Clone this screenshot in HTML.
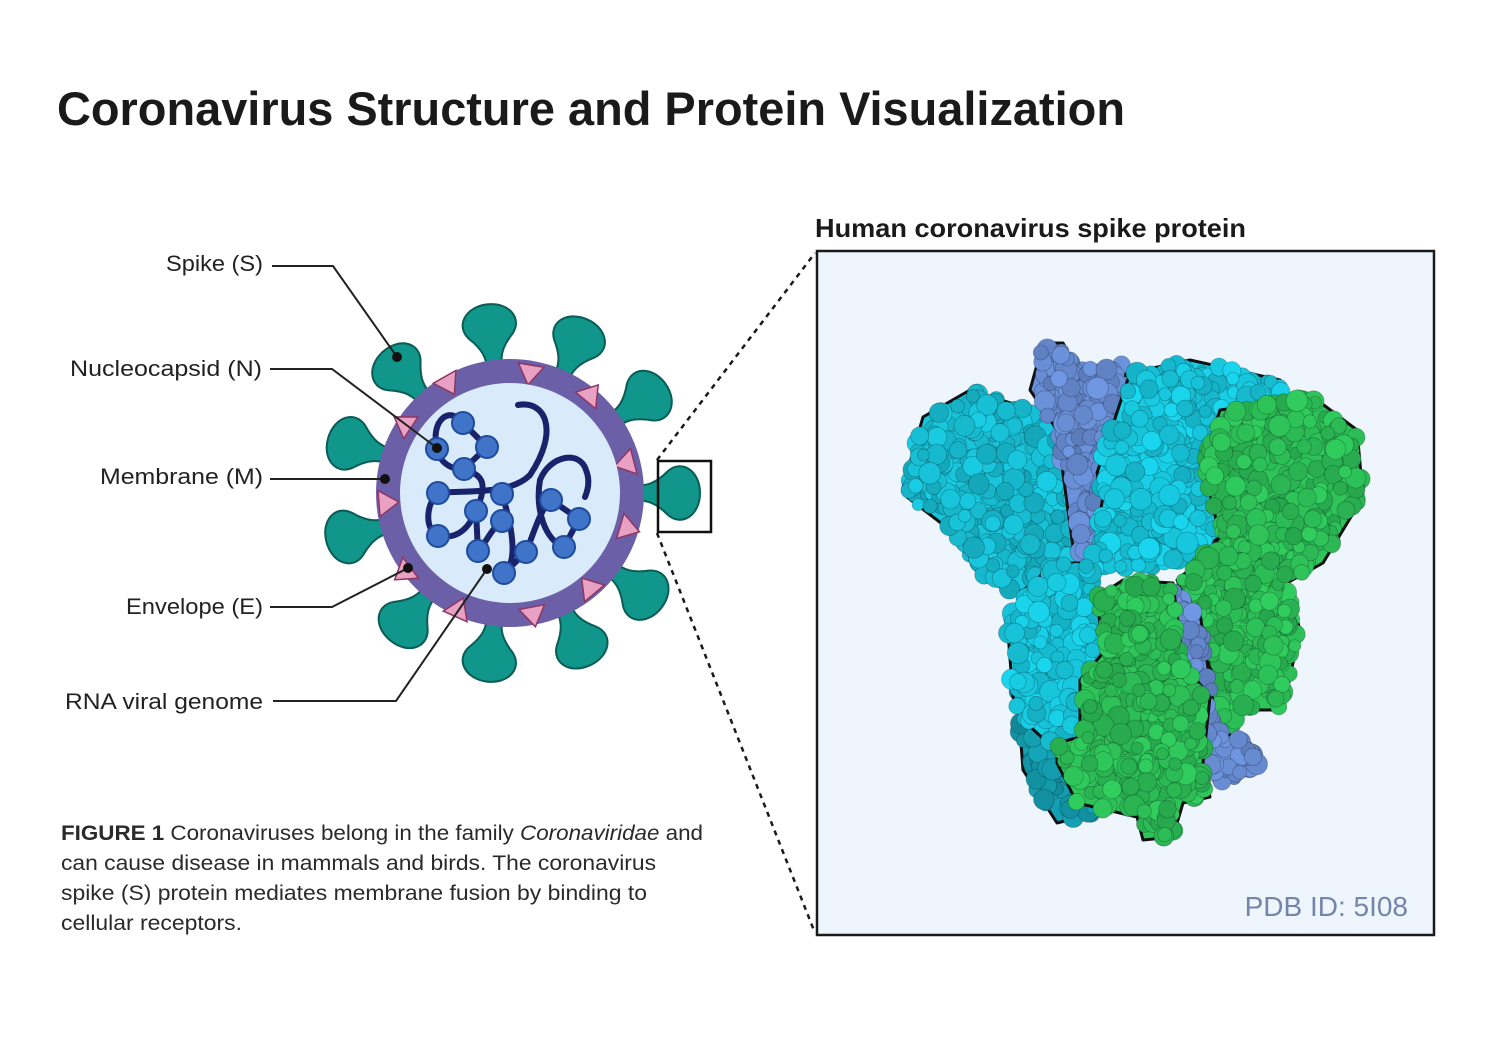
<!DOCTYPE html>
<html><head><meta charset="utf-8">
<style>
html,body{margin:0;padding:0;background:#fff;}
svg{display:block;}
text{font-family:"Liberation Sans",Arial,sans-serif;}
</style></head>
<body>
<svg id="s" width="1500" height="1050" viewBox="0 0 1500 1050" xmlns="http://www.w3.org/2000/svg">
<rect width="1500" height="1050" fill="#fff"/>
<text x="57" y="125" font-size="47" font-weight="bold" fill="#1a1a1a" textLength="1068" lengthAdjust="spacingAndGlyphs">Coronavirus Structure and Protein Visualization</text>
<text x="815" y="237" font-size="26" font-weight="bold" fill="#1a1a1a" textLength="431" lengthAdjust="spacingAndGlyphs">Human coronavirus spike protein</text>

<rect x="817" y="251" width="617" height="684" fill="#eef5fd" stroke="#1a1a1a" stroke-width="2.5"/>
<g id="prot"></g>
<text x="1408" y="916" font-size="28" fill="#7385ab" text-anchor="end">PDB ID: 5I08</text>

<line x1="657" y1="460" x2="815" y2="253" stroke="#1a1a1a" stroke-width="2.5" stroke-dasharray="5,5"/>
<line x1="657" y1="533" x2="815" y2="933" stroke="#1a1a1a" stroke-width="2.5" stroke-dasharray="5,5"/>

<g id="spikes" fill="#10968a" stroke="#0a5c55" stroke-width="2"></g>
<circle cx="510" cy="493" r="134" fill="#6b5fa8"/>
<g id="tris" fill="#e8a1c2" stroke="#8e3663" stroke-width="1.5"></g>
<circle cx="510" cy="493" r="110" fill="#d9ebfa"/>
<g fill="none" stroke="#18236b" stroke-width="6" stroke-linecap="round">
<path d="M437,449 C430,420 450,405 463,423 L487,447 L464,469 C445,470 437,455 437,449"/>
<path d="M464,469 C480,475 490,480 476,511 L478,551"/>
<path d="M518,405 C545,400 560,430 530,475 C510,495 470,490 438,493 C425,505 425,530 438,536 C460,540 470,525 476,511"/>
<path d="M502,494 C510,520 520,560 504,573 L526,552 C535,530 540,510 551,500"/>
<path d="M551,500 L579,519 L564,547 C545,540 535,510 540,480 C550,455 580,450 586,470 C590,480 588,490 585,497"/>
<path d="M502,521 C490,530 485,545 478,551"/>
</g>
<g fill="#3f74c8" stroke="#1f4a9e" stroke-width="2">
<circle cx="463" cy="423" r="11"/><circle cx="487" cy="447" r="11"/><circle cx="464" cy="469" r="11"/><circle cx="437" cy="449" r="11"/>
<circle cx="438" cy="493" r="11"/><circle cx="476" cy="511" r="11"/><circle cx="502" cy="494" r="11"/><circle cx="502" cy="521" r="11"/>
<circle cx="478" cy="551" r="11"/><circle cx="504" cy="573" r="11"/><circle cx="526" cy="552" r="11"/><circle cx="551" cy="500" r="11"/>
<circle cx="579" cy="519" r="11"/><circle cx="564" cy="547" r="11"/><circle cx="438" cy="536" r="11"/>
</g>
<rect x="658" y="461" width="53" height="71" fill="none" stroke="#111" stroke-width="2.5"/>

<g font-size="22" fill="#222">
<text x="166" y="271" textLength="97" lengthAdjust="spacingAndGlyphs">Spike (S)</text>
<text x="70" y="376" textLength="192" lengthAdjust="spacingAndGlyphs">Nucleocapsid (N)</text>
<text x="100" y="484" textLength="163" lengthAdjust="spacingAndGlyphs">Membrane (M)</text>
<text x="126" y="614" textLength="137" lengthAdjust="spacingAndGlyphs">Envelope (E)</text>
<text x="65" y="709" textLength="198" lengthAdjust="spacingAndGlyphs">RNA viral genome</text>
</g>
<g fill="none" stroke="#222" stroke-width="2">
<polyline points="272,266 333,266 397,357"/>
<polyline points="270,369 332,369 437,448"/>
<polyline points="270,479 385,479"/>
<polyline points="270,607 332,607 408,568"/>
<polyline points="273,701 396,701 487,569"/>
</g>
<g fill="#111"><circle cx="397" cy="357" r="5"/><circle cx="437" cy="448" r="5"/><circle cx="385" cy="479" r="5"/><circle cx="408" cy="568" r="5"/><circle cx="487" cy="569" r="5"/></g>

<g font-size="21.5" fill="#2a2a2a">
<text x="61" y="840" textLength="642" lengthAdjust="spacingAndGlyphs"><tspan font-weight="bold">FIGURE 1</tspan> Coronaviruses belong in the family <tspan font-style="italic">Coronaviridae</tspan> and</text>
<text x="61" y="870" textLength="595" lengthAdjust="spacingAndGlyphs">can cause disease in mammals and birds. The coronavirus</text>
<text x="61" y="900" textLength="586" lengthAdjust="spacingAndGlyphs">spike (S) protein mediates membrane fusion by binding to</text>
<text x="61" y="930" textLength="181" lengthAdjust="spacingAndGlyphs">cellular receptors.</text>
</g>
</svg>
<script>
(function(){
var NS="http://www.w3.org/2000/svg";
function el(t,a,p){var e=document.createElementNS(NS,t);for(var k in a)e.setAttribute(k,a[k]);p.appendChild(e);return e;}
var sp=document.getElementById("spikes");
[-7,24,55,90,127,155,187,219,255,287,318].forEach(function(a){
 el("path",{d:"M-7,4 C-7,-12 -10,-20 -22,-32 C-34,-46 -22,-64 0,-64 C22,-64 34,-46 22,-32 C10,-20 7,-12 7,4 Z",
 transform:"rotate("+a+" 510 493) translate(510 "+(493-126)+")"},sp);
});
var tr=document.getElementById("tris");
[[530,372],[590,395],[627,463],[627,528],[590,588],[533,614],[458,610],[405,572],[386,503],[405,424],[448,383]].forEach(function(p,i){
 var ang=Math.atan2(p[1]-493,p[0]-510)*180/Math.PI;
 el("path",{d:"M-13,-7 L13,-7 L0,13 Z",transform:"translate("+p[0]+" "+p[1]+") rotate("+(ang+90+(i%2?180:0))+")"},tr);
});
var g=document.getElementById("prot");
var seed=7;function rnd(){seed=(seed*16807)%2147483647;return seed/2147483647;}
function inside(pt,poly){var x=pt[0],y=pt[1],c=false;for(var i=0,j=poly.length-1;i<poly.length;j=i++){var xi=poly[i][0],yi=poly[i][1],xj=poly[j][0],yj=poly[j][1];if(((yi>y)!=(yj>y))&&(x<(xj-xi)*(y-yi)/(yj-yi)+xi))c=!c;}return c;}
var regions=[
 {c:[24,196,218],p:[[903,487],[923,417],[970,390],[1023,407],[1057,430],[1077,497],[1090,547],[1057,563],[1017,593],[990,583],[950,530],[907,497]]},
 {c:[107,145,218],p:[[1030,390],[1043,343],[1063,343],[1077,370],[1123,363],[1130,397],[1123,530],[1097,563],[1073,547],[1057,430]]},
 {c:[24,205,228],p:[[1097,473],[1130,373],[1190,360],[1280,380],[1283,397],[1210,413],[1203,497],[1220,537],[1183,563],[1130,570],[1090,570],[1103,497]]},
 {c:[46,196,90],p:[[1203,463],[1220,410],[1313,397],[1357,430],[1363,497],[1323,563],[1287,583],[1300,630],[1283,710],[1240,710],[1223,747],[1210,663],[1177,580],[1197,563],[1220,537]]},
 {c:[107,145,218],p:[[1170,583],[1200,613],[1217,730],[1250,743],[1260,767],[1223,783],[1197,763],[1183,663]]},
 {c:[20,160,178],p:[[1017,690],[1060,690],[1080,740],[1097,813],[1057,823],[1023,770]]},
 {c:[24,205,228],p:[[1007,620],[1050,563],[1090,563],[1107,657],[1080,680],[1077,740],[1050,745],[1023,720],[1013,697]]},
 {c:[46,196,90],p:[[1097,597],[1123,580],[1173,583],[1183,663],[1210,697],[1203,763],[1210,797],[1183,803],[1173,837],[1143,840],[1137,817],[1077,803],[1057,763],[1057,743],[1080,737],[1080,680],[1103,653]]}
];
regions.forEach(function(r){
 var pts=r.p.map(function(q){return q.join(",");}).join(" ");
 var base="rgb("+r.c.join(",")+")";
 el("polygon",{points:pts,fill:base,stroke:"#111","stroke-width":"3","stroke-linejoin":"round"},g);
 var minx=1e9,maxx=-1e9,miny=1e9,maxy=-1e9;r.p.forEach(function(q){minx=Math.min(minx,q[0]);maxx=Math.max(maxx,q[0]);miny=Math.min(miny,q[1]);maxy=Math.max(maxy,q[1]);});
 var n=Math.round((maxx-minx)*(maxy-miny)/70);
 for(var i=0;i<n;i++){var x=minx+rnd()*(maxx-minx),y=miny+rnd()*(maxy-miny);
  if(!inside([x,y],r.p))continue;
  var f=0.85+rnd()*0.2;
  var col="rgb("+r.c.map(function(v){return Math.min(255,Math.round(v*f));}).join(",")+")";
  el("circle",{cx:x.toFixed(1),cy:y.toFixed(1),r:(6+rnd()*5).toFixed(1),fill:col,stroke:"rgba(0,0,0,0.25)","stroke-width":"0.8"},g);
 }
});
})();
</script>
</body></html>
